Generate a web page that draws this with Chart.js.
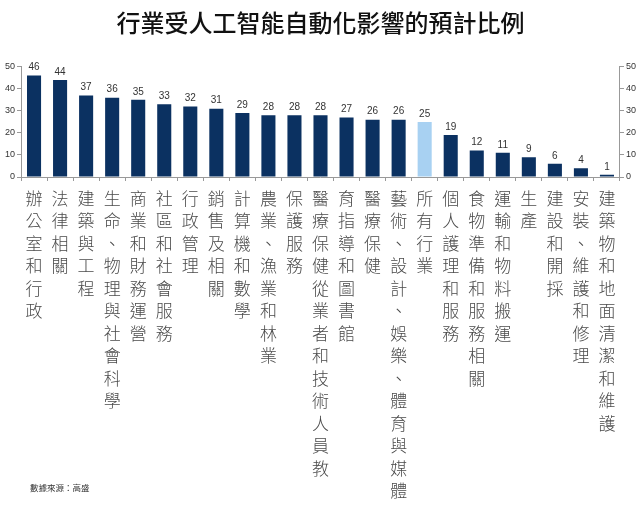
<!DOCTYPE html>
<html>
<head>
<meta charset="utf-8">
<script src="https://cdn.jsdelivr.net/npm/chart.js@4"></script>
<style>
  html, body { margin: 0; padding: 0; background: #fff; }
  #wrap { width: 640px; height: 511px; }
</style>
</head>
<body>
<div id="wrap"><canvas id="myChart"></canvas></div>
<script>
// 行業名稱 (按圖中顯示的換行)
var industries = [
    "辦公室和行政", "法律相關", "建築與工程", "生命、物理與社會科學",
    "商業和財務運營", "社區和社會服務", "行政管理", "銷售及相關",
    "計算機和數學", "農業、漁業和林業", "保護服務", "醫療保健從業者和技術人員教",
    "育指導和圖書館", "醫療保健", "藝術、設計、娛樂、體育與媒體", "所有行業",
    "個人護理和服務", "食物準備和服務相關", "運輸和物料搬運", "生產",
    "建設和開採", "安裝、維護和修理", "建築物和地面清潔和維護"
];
var shares = [46, 44, 37, 36, 35, 33, 32, 31, 29, 28, 28, 28, 27, 26, 26, 25, 19, 12, 11, 9, 6, 4, 1];
var yTicks = [0, 10, 20, 30, 40, 50];

var navy = '#0b3161';
var lightBlue = '#a8d1f2';

var colors = industries.map(function (s) { return s === '所有行業' ? lightBlue : navy; });

// 柱頂數值
var valueLabels = {
    id: 'valueLabels',
    afterDatasetsDraw: function (chart) {
        var ctx = chart.ctx;
        var meta = chart.getDatasetMeta(0);
        ctx.save();
        ctx.font = '10px "Liberation Sans", Arial, sans-serif';
        ctx.fillStyle = '#333';
        ctx.textAlign = 'center';
        ctx.textBaseline = 'bottom';
        meta.data.forEach(function (bar, i) {
            ctx.fillText(shares[i], bar.x, bar.y - 3);
        });
        ctx.restore();
    }
};

// 直排類別名稱 (x 軸高度被限制在一半，所以自己畫)
var verticalLabels = {
    id: 'verticalLabels',
    afterDraw: function (chart) {
        var ctx = chart.ctx;
        var xs = chart.scales.x;
        var top = xs.bottom + 9;
        ctx.save();
        ctx.font = '300 17px "Noto Sans CJK TC", sans-serif';
        ctx.fillStyle = '#4a4a4a';
        ctx.textAlign = 'center';
        ctx.textBaseline = 'top';
        industries.forEach(function (name, i) {
            var x = xs.getPixelForValue(i);
            name.split('').forEach(function (ch, j) {
                ctx.fillText(ch, x, top + j * 22.5);
            });
        });
        // 數據來源
        ctx.font = '8.5px "Noto Sans CJK TC", sans-serif';
        ctx.fillStyle = '#333';
        ctx.textAlign = 'left';
        ctx.textBaseline = 'middle';
        ctx.fillText('數據來源：高盛', 30, 488);
        ctx.restore();
    }
};

var yAxis = function (pos) {
    return {
        position: pos,
        min: 0,
        max: 50,
        afterBuildTicks: function (axis) {
            axis.ticks = yTicks.map(function (v) { return {value: v}; });
        },
        border: {display: true, color: '#999'},
        grid: {drawOnChartArea: false, tickLength: 4, color: '#999'},
        ticks: {
            padding: 2,
            color: '#333',
            font: {family: '"Liberation Sans", Arial, sans-serif', size: 9}
        }
    };
};

var ctx = document.getElementById('myChart').getContext('2d');
var chart = new Chart(ctx, {
    type: 'bar',
    data: {
        labels: industries,
        datasets: [{
            data: shares,
            backgroundColor: colors,
            barPercentage: 0.54,
            categoryPercentage: 1,
            yAxisID: 'y'
        }]
    },
    options: {
        responsive: true,
        maintainAspectRatio: false,
        animation: false,
        layout: {padding: {top: 0, bottom: 330, left: 3, right: 2}},
        plugins: {
            legend: {display: false},
            tooltip: {enabled: false},
            title: {
                display: true,
                text: '行業受人工智能自動化影響的預計比例',
                color: '#111',
                font: {family: '"Noto Sans CJK TC", sans-serif', size: 24, weight: '500'},
                padding: {top: 8, bottom: 30}
            }
        },
        scales: {
            x: {
                border: {display: true, color: '#999'},
                grid: {drawOnChartArea: false, offset: true, tickLength: 4, color: '#999'},
                ticks: {display: false}
            },
            y: yAxis('left'),
            y2: yAxis('right')
        }
    },
    plugins: [valueLabels, verticalLabels]
});
</script>
</body>
</html>
